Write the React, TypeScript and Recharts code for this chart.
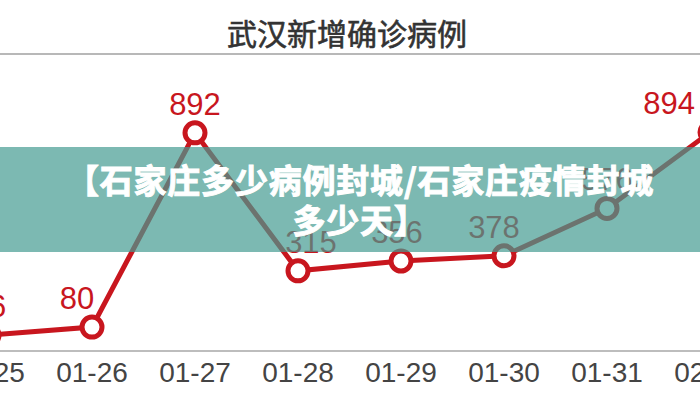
import { LabelList, Line, LineChart, XAxis, YAxis } from "recharts"

const dates = ["01-25", "01-26", "01-27", "01-28", "01-29", "01-30", "01-31", "02-01"]
const newCases = [46, 80, 892, 315, 356, 378, 576, 894]

const data = dates.map((date, i) => ({ date, cases: newCases[i] }))

const RED = "#c8161e"
// small nudges so labels sit clear of the line, as in the source chart
const labelNudge = [0, -15, 0, 13, -4, -10, 0, 0]

const ValueLabel = (props: any) => {
  const { x, y, value, index } = props
  const last = index === data.length - 1
  return (
    <text
      x={last ? x - 15 : x + labelNudge[index]}
      y={y - 18}
      textAnchor={last ? "end" : "middle"}
      fill={RED}
      fontSize={31}
      fontFamily="'Liberation Sans', Arial, sans-serif"
    >
      {value}
    </text>
  )
}

export default function App() {
  return (
    <div
      style={{
        position: "fixed",
        left: 0,
        top: 0,
        width: 700,
        height: 400,
        overflow: "hidden",
        background: "#fff",
      }}
    >
      <div
        style={{
          position: "absolute",
          top: 14,
          left: 0,
          width: 694,
          textAlign: "center",
          fontFamily: "'Noto Sans CJK SC', sans-serif",
          fontSize: 30,
          lineHeight: "36px",
          color: "#333",
          WebkitTextStroke: "0.6px #333",
        }}
      >
        武汉新增确诊病例
      </div>
      <div style={{ position: "absolute", top: 53, left: 0, width: 700, height: 2, background: "#b8b8b8" }} />

      <div style={{ position: "absolute", left: -60, top: 0 }}>
        <LineChart width={820} height={400} data={data} margin={{ top: 107, right: 50, bottom: 9, left: 49 }}>
          <XAxis
            dataKey="date"
            height={40}
            tickLine={false}
            tickSize={0}
            tickMargin={11}
            interval={0}
            stroke="#bdbdbd"
            strokeWidth={2}
            tick={{ fill: "#444", fontSize: 28, fontFamily: "'Liberation Sans', Arial, sans-serif" }}
          />
          <YAxis hide domain={[-20, 1000]} />
          <Line
            type="linear"
            dataKey="cases"
            stroke={RED}
            strokeWidth={5}
            dot={{ r: 10, strokeWidth: 5, fill: "#fff", stroke: RED }}
            isAnimationActive={false}
          >
            <LabelList dataKey="cases" content={ValueLabel} />
          </Line>
        </LineChart>
      </div>

      <div
        style={{
          position: "absolute",
          top: 147,
          left: 0,
          width: 700,
          height: 105,
          background: "rgba(69, 155, 145, 0.7)",
          boxSizing: "border-box",
          paddingTop: 12,
          paddingLeft: 20,
          textAlign: "center",
          color: "#fff",
          fontFamily: "'Noto Sans CJK SC', sans-serif",
          fontWeight: 700,
          fontSize: 33,
          letterSpacing: 0.8,
          lineHeight: "40px",
          WebkitTextStroke: "1px #fff",
          whiteSpace: "nowrap",
        }}
      >
        【石家庄多少病例封城/石家庄疫情封城
        <br />
        多少天】
      </div>
    </div>
  )
}
